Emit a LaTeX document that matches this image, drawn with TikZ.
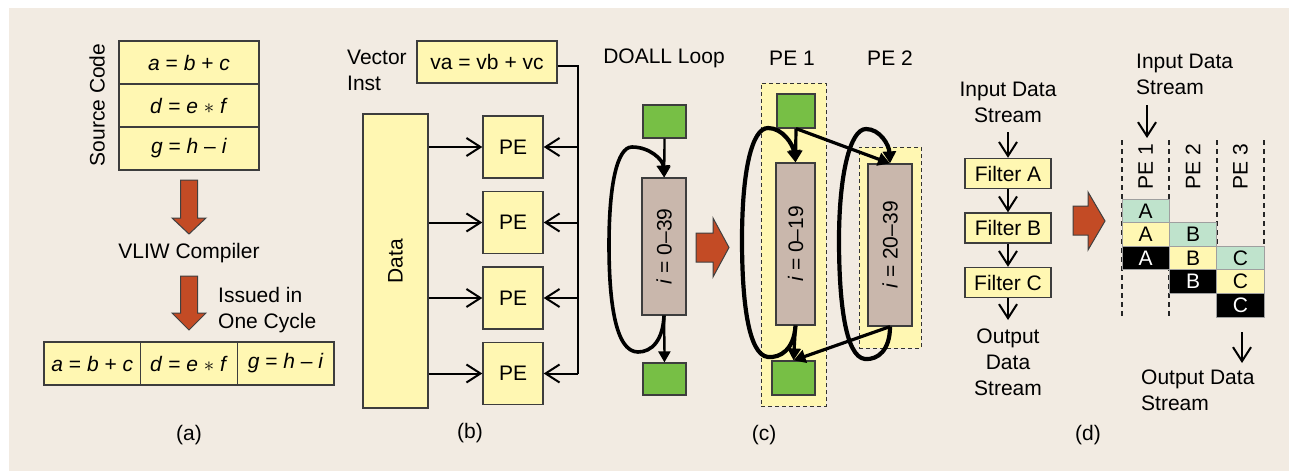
\documentclass[tikz,border=0pt]{standalone}
\usepackage{fontspec}
\setmainfont{Liberation Sans}
\usetikzlibrary{positioning,arrows.meta,calc}
\definecolor{bgbeige}{HTML}{F2EBE2}
\definecolor{paleyellow}{HTML}{FFF7B2}
\definecolor{leafgreen}{HTML}{77BF45}
\definecolor{taupe}{HTML}{C9B7AC}
\definecolor{mintcell}{HTML}{BFE3CC}
\definecolor{rust}{HTML}{C34B25}
\definecolor{edgegray}{HTML}{3D3D3D}

\begin{document}
\begin{tikzpicture}[x=1pt,y=-1pt,font=\fontsize{21}{26}\selectfont,
  every node/.style={inner sep=0pt},
  codebox/.style={draw=edgegray,line width=1.4pt,fill=paleyellow,minimum height=43pt},
  pebox/.style={draw=edgegray,line width=1.4pt,fill=paleyellow,minimum width=60pt,minimum height=62pt},
  filterbox/.style={draw=edgegray,line width=1.4pt,fill=paleyellow,minimum width=86pt,minimum height=30pt},
  startbox/.style={draw=edgegray,line width=1.2pt,fill=leafgreen,minimum width=43pt,minimum height=33pt},
  iterbox/.style={draw=edgegray,line width=1.2pt,fill=taupe,minimum width=44pt,minimum height=162pt},
  peregion/.style={draw=black!80,dash pattern=on 4pt off 3pt,line width=1pt,fill=paleyellow},
  cellbase/.style={draw=gray!75,line width=0.8pt,minimum width=47.33pt,minimum height=23.6pt},
  gcell/.style={cellbase,fill=mintcell},
  ycell/.style={cellbase,fill=paleyellow},
  kcell/.style={cellbase,fill=black,text=white},
  openarrow/.style={-{Straight Barb[length=14pt,width=18pt]},line width=2pt},
  flowline/.style={-{Triangle[length=11pt,width=12pt]},line width=2.3pt},
  splitline/.style={-{Triangle[length=12pt,width=13pt]},line width=3.2pt},
  loopline/.style={-{Triangle[length=12pt,width=13pt]},line width=4.2pt},
  bigarrow/.style={fill=rust,draw=black!75,line width=1pt,line join=miter}]
  \useasboundingbox (0,0) rectangle (1289,471);
  \fill[bgbeige] (9,8) rectangle (1289,471);

  % (a) VLIW
  \node[codebox,minimum width=140pt] (src1) at (189,62.5) {\textit{a} = \textit{b} + \textit{c}};
  \node[codebox,minimum width=140pt] (src2) at (189,105.5) {\textit{d} = \textit{e} $\ast$ \textit{f}};
  \node[codebox,minimum width=140pt] (src3) at (189,148.5) {\textit{g} = \textit{h} – \textit{i}};
  \node[rotate=90] (srclab) at (97,105) {Source Code};
  \draw[bigarrow] (180.5,180) -- (197.5,180) -- (197.5,218) -- (206,218) -- (189,234) -- (172,218) -- (180.5,218) -- cycle;
  \node (vliwlab) at (189,253) {VLIW Compiler};
  \draw[bigarrow] (180.5,276) -- (197.5,276) -- (197.5,313) -- (206,313) -- (189,330) -- (172,313) -- (180.5,313) -- cycle;
  \node[align=left,anchor=west] (issuelab) at (218,310) {Issued in\\One Cycle};
  \node[codebox,minimum width=96.67pt] (word1) at (92.3,363.5) {\textit{a} = \textit{b} + \textit{c}};
  \node[codebox,minimum width=96.67pt] (word2) at (189,363.5) {\textit{d} = \textit{e} $\ast$ \textit{f}};
  \node[codebox,minimum width=96.67pt] (word3) at (285.7,363.5) {\textit{g} = \textit{h} – \textit{i}};
  \node (capa) at (189,435) {(a)};

  % (b) SIMD
  \node[align=left,anchor=west] (veclab) at (347,70.5) {Vector\\Inst};
  \node[codebox,minimum width=140pt,minimum height=42pt] (vainst) at (487,62) {va = vb + vc};
  \node[codebox,minimum width=65pt,minimum height=294pt] (databox) at (395.5,261) {};
  \node[rotate=90] (datalab) at (databox) {Data};
  \coordinate (bus) at (578,66);
  \foreach \n/\y in {1/147,2/222.5,3/298,4/373.5}
    \node[pebox] (pe\n) at (513,\y) {PE};
  \draw[line width=2pt,line join=miter] (vainst.east |- bus) -- (bus) -- (bus |- pe4.east);
  \foreach \n in {1,...,4} {
    \draw[openarrow] (databox.east |- pe\n.west) -- (pe\n.west);
    \draw[openarrow] (bus |- pe\n.east) -- (pe\n.east);
  }
  \node (capb) at (470,433) {(b)};

  % (c) DOALL
  \node (doall) at (664,58) {DOALL Loop};
  \node (pe1head) at (792,58) {PE 1};
  \node (pe2head) at (890,58) {PE 2};
  \node[startbox] (g0t) at (664.5,121.5) {};
  \node[iterbox,minimum height=137pt] (g0) at (664,246.5) {};
  \node[rotate=90] (g0lab) at (g0) {\textit{i} = 0–39};
  \node[startbox,minimum height=32pt] (g0b) at (664.5,379) {};
  \draw[flowline] (g0t) -- (g0);
  \draw[flowline] (g0) -- (g0b);
  \draw[loopline,line width=3.6pt] (g0.south) .. controls (663,340) and (652,352) .. (638,352)
    .. controls (615,352) and (609,300) .. (609,245)
    .. controls (609,185) and (617,147) .. (632,147)
    .. controls (650,147) and (663,160) .. (g0.north);
  \draw[bigarrow] (696,233) -- (713,233) -- (713,218) -- (729,247.5) -- (713,277) -- (713,262) -- (696,262) -- cycle;
  \node[peregion,minimum width=65pt,minimum height=323pt] (pe1reg) at (793.5,244.5) {};
  \node[peregion,minimum width=62pt,minimum height=201pt] (pe2reg) at (890,247.5) {};
  \node[startbox,minimum width=38pt,minimum height=34pt] (p1t) at (796,111) {};
  \node[iterbox,minimum width=39pt] (p1) at (795.5,244) {};
  \node[rotate=90] (p1lab) at (p1) {\textit{i} = 0–19};
  \node[startbox,minimum height=34pt] (p1b) at (793.5,378) {};
  \node[iterbox] (p2) at (890,245) {};
  \node[rotate=90] (p2lab) at (p2) {\textit{i} = 20–39};
  \draw[splitline] (p1t.south) -- (p1.north);
  \draw[splitline] (p1t.south) -- (p2.north);
  \draw[splitline] (p1.south) -- (p1b.north);
  \draw[splitline] (p2.south) -- (p1b.north);
  \draw[loopline] (p1.south) .. controls (794,350) and (780,358) .. (768,357)
    .. controls (748,355) and (742,300) .. (742,240)
    .. controls (742,170) and (752,128) .. (768,128)
    .. controls (783,128) and (793,145) .. (p1.north);
  \draw[loopline] (p2.south) .. controls (890,350) and (878,360) .. (865,359)
    .. controls (845,357) and (839,300) .. (839,240)
    .. controls (839,175) and (850,129) .. (866,129)
    .. controls (880,129) and (889,145) .. (p2.north);
  \node (capc) at (764,435) {(c)};

  % (d) pipeline
  \node[align=center] (inlab) at (1008,102) {Input Data\\Stream};
  \coordinate (infeed) at (1008,132);
  \node[filterbox] (filtA) at (1008,173.5) {Filter A};
  \node[filterbox] (filtB) at (1008,228) {Filter B};
  \node[filterbox] (filtC) at (1008,282.5) {Filter C};
  \coordinate (outfeed) at (1008,320);
  \draw[openarrow] (infeed) -- (filtA);
  \draw[openarrow] (filtA) -- (filtB);
  \draw[openarrow] (filtB) -- (filtC);
  \draw[openarrow] (filtC) -- (outfeed);
  \node[align=center] (outlab) at (1008,362) {Output\\Data\\Stream};
  \draw[bigarrow] (1073,206) -- (1088,206) -- (1088,192) -- (1105,221) -- (1088,250) -- (1088,235) -- (1073,235) -- cycle;
  \node[align=left,anchor=west] (inlab2) at (1136,74) {Input Data\\Stream};
  \coordinate (pipein) at (1147,105);
  \coordinate (pipetop) at (1147,138);
  \draw[openarrow] (pipein) -- (pipetop);
  \foreach \x in {1122,1169.33,1216.67,1264}
    \draw[line width=1.8pt,draw=black!85,dash pattern=on 5pt off 4pt] (\x,140) -- (\x,317);
  \foreach \c/\n in {0/1,1/2,2/3}
    \node[rotate=90] (stage\n) at (1145.67+47.33*\c,167) {PE \n};
  \foreach \c/\l in {0/A,1/B,2/C}
    \foreach \r/\s in {0/gcell,1/ycell,2/kcell}
      \node[\s] (cell\l\r) at (1145.67+47.33*\c,210.8+23.6*\c+23.6*\r) {\l};
  \coordinate (pipeout) at (1242,332);
  \coordinate (pipeend) at (1242,363);
  \draw[openarrow] (pipeout) -- (pipeend);
  \node[align=left,anchor=west] (outlab2) at (1141,390) {Output Data\\Stream};
  \node (capd) at (1088,435) {(d)};
\end{tikzpicture}
\end{document}
